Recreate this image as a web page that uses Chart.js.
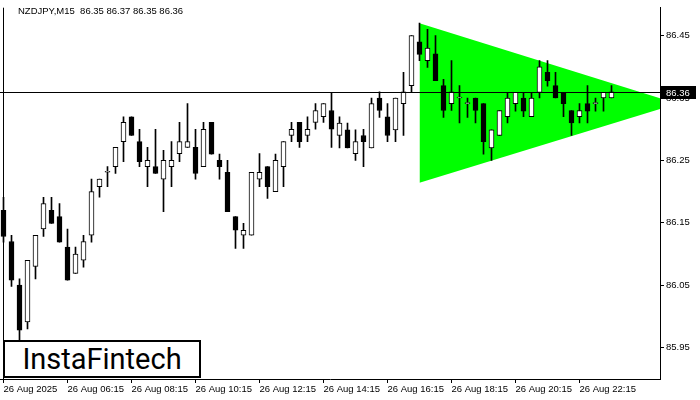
<!DOCTYPE html>
<html>
<head>
<meta charset="utf-8">
<script src="https://cdn.jsdelivr.net/npm/chart.js@4"></script>
<style>
html,body{margin:0;padding:0;background:#fff;width:700px;height:400px;overflow:hidden;}
#wrap{position:relative;width:700px;height:400px;}
#c{position:absolute;left:0;top:0;}
#hdr{position:absolute;left:18px;top:5px;font:9.5px 'Liberation Sans',Arial,sans-serif;color:#000;white-space:pre;line-height:11px;}
#logo{position:absolute;left:3px;top:340px;width:194px;height:34px;border:2px solid #000;background:#fff;
  font:29px Roboto,'Open Sans',sans-serif;color:#000;display:flex;align-items:center;justify-content:center;line-height:34px;}
</style>
</head>
<body>
<div id="wrap">
<canvas id="c" width="700" height="400"></canvas>
<div id="hdr"></div>
<div id="logo">InstaFintech</div>
</div>
<script>
// ---- data (NZDJPY, M15, 26 Aug 2025) ----
const symbol = 'NZDJPY,M15';
const opens  = [86.170,86.120,86.050,85.991,86.080,86.140,86.170,86.160,86.111,86.069,
                86.090,86.130,86.208,86.231,86.240,86.280,86.320,86.280,86.240,86.240,
                86.220,86.240,86.261,86.271,86.271,86.240,86.311,86.250,86.231,86.160,
                86.130,86.130,86.220,86.240,86.200,86.240,86.290,86.311,86.290,86.311,
                86.320,86.330,86.290,86.299,86.261,86.290,86.270,86.350,86.320,86.299,
                86.341,86.370,86.440,86.410,86.421,86.370,86.341,86.350,86.341,86.350,
                86.341,86.270,86.290,86.320,86.341,86.350,86.320,86.359,86.391,86.370,
                86.359,86.330,86.320,86.341,86.341,86.350,86.350];
const highs  = [86.191,86.130,86.060,86.090,86.130,86.191,86.191,86.181,86.140,86.111,
                86.130,86.220,86.220,86.240,86.271,86.320,86.320,86.300,86.271,86.300,
                86.266,86.280,86.311,86.341,86.300,86.311,86.311,86.260,86.250,86.160,
                86.149,86.231,86.261,86.240,86.260,86.280,86.311,86.311,86.320,86.341,
                86.341,86.359,86.320,86.310,86.299,86.300,86.350,86.360,86.341,86.350,
                86.391,86.450,86.470,86.460,86.450,86.380,86.410,86.370,86.350,86.350,
                86.341,86.299,86.330,86.359,86.359,86.359,86.359,86.410,86.410,86.391,
                86.359,86.330,86.341,86.370,86.350,86.359,86.370];
const lows   = [86.119,86.048,85.962,85.980,86.060,86.128,86.149,86.119,86.058,86.069,
                86.079,86.119,86.191,86.208,86.229,86.248,86.290,86.240,86.208,86.229,
                86.168,86.208,86.248,86.271,86.220,86.240,86.260,86.220,86.168,86.109,
                86.109,86.130,86.208,86.189,86.200,86.208,86.280,86.271,86.280,86.300,
                86.311,86.271,86.270,86.270,86.250,86.240,86.270,86.319,86.280,86.280,
                86.290,86.360,86.410,86.399,86.378,86.319,86.330,86.310,86.319,86.310,
                86.260,86.250,86.290,86.310,86.329,86.320,86.320,86.350,86.369,86.350,
                86.320,86.290,86.310,86.310,86.329,86.329,86.350];
const closes = [86.128,86.058,85.978,86.090,86.130,86.181,86.149,86.119,86.058,86.100,
                86.120,86.200,86.220,86.231,86.271,86.311,86.290,86.248,86.250,86.229,
                86.250,86.250,86.280,86.280,86.229,86.300,86.260,86.240,86.168,86.138,
                86.138,86.231,86.231,86.208,86.250,86.280,86.300,86.280,86.300,86.330,
                86.341,86.300,86.310,86.270,86.280,86.280,86.341,86.330,86.290,86.350,
                86.360,86.450,86.420,86.430,86.378,86.330,86.360,86.350,86.341,86.330,
                86.280,86.299,86.330,86.350,86.359,86.329,86.350,86.400,86.378,86.350,
                86.341,86.310,86.330,86.329,86.341,86.359,86.360];
const timeTickIndex  = [0, 8, 16, 24, 32, 40, 48, 56, 64, 72];
const timeTickLabels = ['26 Aug 2025','26 Aug 06:15','26 Aug 08:15','26 Aug 10:15','26 Aug 12:15',
                        '26 Aug 14:15','26 Aug 16:15','26 Aug 18:15','26 Aug 20:15','26 Aug 22:15'];
const priceTicks = [85.95, 86.05, 86.15, 86.25, 86.35, 86.45];
// symmetrical triangle pattern (bar index, price)
const triangleX     = [52, 84.25];
const triangleUpper = [86.470, 86.341];
const triangleLower = [86.214, 86.341];
const lastPrice = 86.36;
const separatorIndex = 0;   // vertical separator at the first bar

// ---- header text ----
const last = opens.length - 1;
document.getElementById('hdr').textContent =
  symbol + '  ' + [opens[last], highs[last], lows[last], closes[last]].map(v => v.toFixed(2)).join(' ');

const FONT = {family: "'Liberation Sans', Arial, sans-serif", size: 9.5};

const overlays = {
  id: 'overlays',
  beforeDatasetsDraw(chart) {
    const {ctx, chartArea, scales: {x}} = chart;
    const px = Math.round(x.getPixelForValue(separatorIndex) - 0.5) + 0.5;
    ctx.save();
    ctx.strokeStyle = '#000';
    ctx.lineWidth = 1;
    ctx.beginPath();
    ctx.moveTo(px, chartArea.top);
    ctx.lineTo(px, chartArea.bottom);
    ctx.stroke();
    ctx.restore();
  },
  afterDatasetsDraw(chart) {
    const {ctx, chartArea, scales: {y}} = chart;
    const py = Math.round(y.getPixelForValue(lastPrice));
    ctx.save();
    ctx.strokeStyle = '#000';
    ctx.lineWidth = 1;
    ctx.beginPath();
    ctx.moveTo(chartArea.left, py + 0.5);
    ctx.lineTo(chartArea.right, py + 0.5);
    ctx.stroke();
    ctx.restore();
  },
  afterDraw(chart) {
    const {ctx, chartArea, scales: {y}} = chart;
    const py = Math.round(y.getPixelForValue(lastPrice));
    ctx.save();
    ctx.fillStyle = '#000';
    ctx.fillRect(chartArea.right + 1, py - 6, 35, 13);
    ctx.fillStyle = '#fff';
    ctx.font = "9.5px 'Liberation Sans', Arial, sans-serif";
    ctx.textBaseline = 'middle';
    ctx.textAlign = 'left';
    ctx.fillText(lastPrice.toFixed(2), chartArea.right + 6, py + 1);
    ctx.restore();
  }
};

const idx = opens.map((_, i) => i);

new Chart(document.getElementById('c'), {
  type: 'bar',
  data: {
    datasets: [
      {
        label: 'wick',
        type: 'bar',
        data: idx.map(i => ({x: i, y: [lows[i], highs[i]]})),
        backgroundColor: '#000',
        borderWidth: 0,
        barThickness: 1,
        grouped: false,
        order: 3
      },
      {
        label: 'body',
        type: 'bar',
        data: idx.map(i => ({x: i, y: [opens[i], closes[i]]})),
        backgroundColor: idx.map(i => closes[i] >= opens[i] ? '#fff' : '#000'),
        borderColor: '#000',
        borderWidth: 1,
        borderSkipped: false,
        barThickness: 5,
        minBarLength: 1,
        grouped: false,
        order: 1
      },
      {
        label: 'triUpper',
        type: 'line',
        data: triangleX.map((x, k) => ({x, y: triangleUpper[k]})),
        borderWidth: 0,
        borderColor: 'rgba(0,0,0,0)',
        pointRadius: 0,
        fill: false,
        order: 10
      },
      {
        label: 'triLower',
        type: 'line',
        data: triangleX.map((x, k) => ({x, y: triangleLower[k]})),
        borderWidth: 0,
        borderColor: 'rgba(0,0,0,0)',
        backgroundColor: '#00ff00',
        pointRadius: 0,
        fill: '-1',
        order: 9
      }
    ]
  },
  options: {
    responsive: false,
    animation: false,
    devicePixelRatio: 1,
    layout: {padding: {top: 7, left: 0, right: 0, bottom: 0}},
    plugins: {legend: {display: false}, tooltip: {enabled: false}, title: {display: false}},
    scales: {
      x: {
        type: 'linear',
        offset: false,
        min: -0.4375,
        max: 82.0625,
        afterBuildTicks: ax => { ax.ticks = timeTickIndex.map(v => ({value: v})); },
        afterFit: ax => { ax.height = 21; },
        ticks: {
          autoSkip: false, maxRotation: 0, minRotation: 0, align: 'start', padding: 1,
          color: '#000', font: FONT,
          callback: v => { const k = timeTickIndex.indexOf(v); return k >= 0 ? timeTickLabels[k] : ''; }
        },
        grid: {
          offset: false,
          drawOnChartArea: false,
          tickColor: '#000', tickLength: 4, lineWidth: 1
        },
        border: {display: true, color: '#000', width: 1}
      },
      y: {
        type: 'linear',
        position: 'right',
        min: 85.8996,
        max: 86.4948,
        afterBuildTicks: ax => { ax.ticks = priceTicks.map(v => ({value: v})); },
        afterFit: ax => { ax.width = 40; },
        ticks: {padding: 2, color: '#000', font: FONT, callback: v => v.toFixed(2)},
        grid: {drawOnChartArea: false, tickColor: '#000', tickLength: 4},
        border: {display: true, color: '#000', width: 1}
      }
    }
  },
  plugins: [overlays]
});
</script>
</body>
</html>
